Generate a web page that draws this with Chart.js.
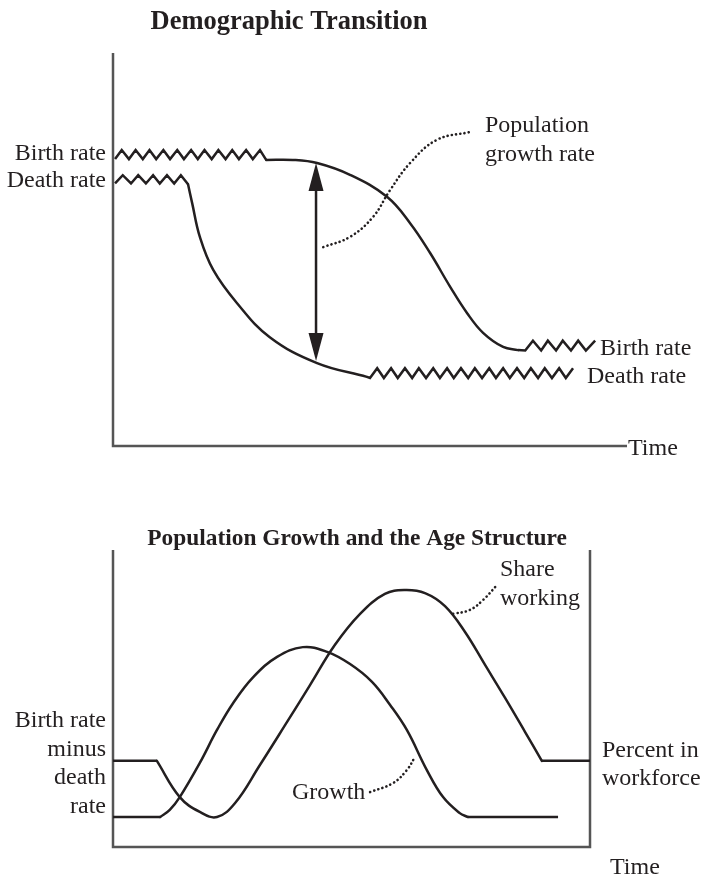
<!DOCTYPE html>
<html>
<head>
<meta charset="utf-8">
<script src="https://cdn.jsdelivr.net/npm/chart.js@4.4.1/dist/chart.umd.min.js"></script>
<style>
html, body { margin: 0; padding: 0; background: #ffffff; }
#wrap { position: relative; width: 703px; height: 878px; }
canvas { position: absolute; left: 0; top: 0; }
</style>
</head>
<body>
<div id="wrap">
  <canvas id="top" width="703" height="878"></canvas>
  <canvas id="bottom" width="703" height="878"></canvas>
</div>
<script>
// ---------------- Panel 1: Demographic Transition (time 0-100, rate 0-100) ----------------
const birthEarlyTime  = [0.4, 1.7, 3.1, 4.4, 5.8, 7.1, 8.4, 9.8, 11.1, 12.5, 13.8, 15.2, 16.5, 17.8, 19.2, 20.5, 21.9, 23.2, 24.5, 25.9, 27.2, 28.6, 29.8];
const birthEarlyRate  = [73.0, 75.3, 73.0, 75.3, 73.0, 75.3, 73.0, 75.3, 73.0, 75.3, 73.0, 75.3, 73.0, 75.3, 73.0, 75.3, 73.0, 75.3, 73.0, 75.3, 73.0, 75.3, 72.8];
const birthFallTime   = [29.8, 35.0, 39.7, 46.1, 53.3, 57.8, 61.7, 65.6, 68.9, 72.0, 75.9, 78.8];
const birthFallRate   = [72.8, 72.8, 72.0, 69.0, 63.4, 56.7, 49.1, 40.5, 33.8, 28.8, 25.2, 24.4];
const birthLateTime   = [78.8, 80.2, 81.7, 83.3, 84.6, 86.2, 87.5, 89.1, 90.5, 92.0, 93.8];
const birthLateRate   = [24.4, 24.3, 26.8, 24.3, 26.8, 24.3, 26.8, 24.3, 26.8, 24.3, 26.8];

const deathEarlyTime  = [0.4, 1.9, 3.5, 4.9, 6.4, 7.8, 9.1, 10.5, 11.9, 13.2, 14.6];
const deathEarlyRate  = [66.8, 68.9, 66.8, 68.9, 66.8, 68.9, 66.8, 68.9, 66.8, 68.9, 66.6];
const deathFallTime   = [14.6, 15.4, 16.9, 19.5, 24.1, 30.5, 39.7, 49.4];
const deathFallRate   = [66.6, 61.8, 53.2, 44.8, 36.4, 27.7, 21.1, 17.6];
const deathLateTime   = [49.4, 50.0, 51.4, 52.7, 54.1, 55.4, 56.8, 58.2, 59.5, 60.9, 62.3, 63.6, 65.0, 66.3, 67.7, 69.1, 70.4, 71.8, 73.2, 74.5, 75.9, 77.2, 78.6, 80.0, 81.3, 82.7, 84.0, 85.4, 86.8, 88.1, 89.5];
const deathLateRate   = [17.6, 17.3, 19.8, 17.3, 19.8, 17.3, 19.8, 17.3, 19.8, 17.3, 19.8, 17.3, 19.8, 17.3, 19.8, 17.3, 19.8, 17.3, 19.8, 17.3, 19.8, 17.3, 19.8, 17.3, 19.8, 17.3, 19.8, 17.3, 19.8, 17.3, 19.8];

const growthPointerTime = [40.9, 46.1, 50.6, 53.9, 57.8, 63.0, 69.5];
const growthPointerRate = [50.6, 53.2, 58.3, 65.1, 72.0, 77.9, 79.9];

const gapArrowTime  = 39.5;
const gapArrowBirth = 72.0;
const gapArrowDeath = 21.6;

// ---------------- Panel 2: Population Growth and the Age Structure ----------------
// first two and last two points of each series are the flat plateaus
const growthTime  = [0, 9.9, 11.9, 14.0, 18.2, 21.8, 25.2, 29.4, 34.4, 39.8, 44.9, 49.7, 54.3, 58.1, 61.6, 65.8, 69.2, 72.7, 74.4, 93.3];
const growthValue = [10.1, 10.1, 12.5, 16.8, 28.3, 39.4, 48.5, 57.2, 64.0, 67.3, 65.7, 61.6, 55.6, 47.8, 39.4, 25.9, 16.8, 11.4, 10.1, 10.1];
const shareTime   = [0, 9.2, 14.0, 18.2, 21.8, 25.6, 30.8, 36.1, 41.3, 46.5, 51.8, 57.0, 61.2, 65.4, 69.6, 73.8, 78.0, 82.2, 86.4, 89.9, 100];
const shareValue  = [29.0, 29.0, 16.8, 11.8, 10.1, 14.8, 27.6, 41.1, 54.5, 68.0, 78.5, 85.2, 86.5, 85.5, 81.1, 72.4, 61.3, 50.2, 38.7, 29.0, 29.0];
const sharePointerTime  = [71.3, 74.8, 77.6, 80.5];
const sharePointerValue = [78.5, 79.8, 83.2, 88.2];
const growthLabelPointerTime  = [53.9, 58.7, 61.6, 63.3];
const growthLabelPointerValue = [18.5, 21.5, 25.9, 30.3];

// ---------------- Styling helpers ----------------
const INK = '#231f20';
const AXIS = '#555555';
const FONT = '"Liberation Serif", "Times New Roman", Times, serif';

function zip(t, v) { return t.map((x, i) => ({ x: x, y: v[i] })); }
function series(t, v, extra) {
  return Object.assign({
    data: zip(t, v),
    borderColor: INK,
    borderWidth: 2.5,
    pointRadius: 0,
    pointHoverRadius: 0,
    fill: false,
    tension: 0,
    borderJoinStyle: 'miter',
    clip: false
  }, extra || {});
}
// plateau + smooth middle + plateau, all from one series
function plateauSeries(t, v) {
  const n = t.length;
  return [
    series(t.slice(0, 2), v.slice(0, 2)),
    series(t.slice(1, n - 1), v.slice(1, n - 1), SMOOTH),
    series(t.slice(n - 2), v.slice(n - 2))
  ];
}
const SMOOTH = { tension: 0.4, borderJoinStyle: 'round', borderCapStyle: 'round' };
const DOTTED = { tension: 0.4, borderDash: [0.1, 4.2], borderCapStyle: 'round', borderWidth: 2.6 };

const framePlugin = {
  id: 'frame',
  beforeDatasetsDraw(chart, args, o) {
    const ctx = chart.ctx, a = chart.chartArea;
    ctx.save();
    ctx.strokeStyle = AXIS;
    ctx.lineWidth = 2.5;
    ctx.lineCap = 'butt';
    ctx.lineJoin = 'miter';
    ctx.beginPath();
    ctx.moveTo(a.left, a.top);
    ctx.lineTo(a.left, a.bottom);
    ctx.lineTo(a.right, a.bottom);
    if (o.closeRight) ctx.lineTo(a.right, a.top);
    ctx.stroke();
    ctx.restore();
  },
  afterDatasetsDraw(chart, args, o) {
    const ctx = chart.ctx;
    ctx.save();
    if (o.arrow) {
      const xs = chart.scales.x, ys = chart.scales.y;
      const x = xs.getPixelForValue(o.arrow.x);
      const y1 = ys.getPixelForValue(o.arrow.y1);
      const y2 = ys.getPixelForValue(o.arrow.y2);
      const hl = 28, hw = 7.5;
      ctx.strokeStyle = INK; ctx.fillStyle = INK; ctx.lineWidth = 2.5;
      ctx.beginPath(); ctx.moveTo(x, y1 + hl - 2); ctx.lineTo(x, y2 - hl + 2); ctx.stroke();
      ctx.beginPath(); ctx.moveTo(x, y1); ctx.lineTo(x - hw, y1 + hl); ctx.lineTo(x + hw, y1 + hl); ctx.closePath(); ctx.fill();
      ctx.beginPath(); ctx.moveTo(x, y2); ctx.lineTo(x - hw, y2 - hl); ctx.lineTo(x + hw, y2 - hl); ctx.closePath(); ctx.fill();
    }
    ctx.fillStyle = INK;
    ctx.textBaseline = 'alphabetic';
    (o.texts || []).forEach(t => {
      ctx.font = (t.bold ? 'bold ' : '') + (t.size || 24) + 'px ' + FONT;
      ctx.textAlign = t.align || 'left';
      ctx.fillText(t.text, t.x, t.y);
    });
    ctx.restore();
  }
};

function baseOptions(padding, frameOpts) {
  return {
    responsive: false,
    animation: false,
    devicePixelRatio: 1,
    layout: { padding: padding },
    events: [],
    scales: {
      x: { type: 'linear', min: 0, max: 100, display: false },
      y: { type: 'linear', min: 0, max: 100, display: false }
    },
    plugins: { legend: { display: false }, tooltip: { enabled: false }, frame: frameOpts }
  };
}

// Panel 1
new Chart(document.getElementById('top'), {
  type: 'line',
  data: {
    datasets: [
      series(birthEarlyTime, birthEarlyRate),
      series(birthFallTime, birthFallRate, SMOOTH),
      series(birthLateTime, birthLateRate),
      series(deathEarlyTime, deathEarlyRate),
      series(deathFallTime, deathFallRate, SMOOTH),
      series(deathLateTime, deathLateRate),
      series(growthPointerTime, growthPointerRate, DOTTED)
    ]
  },
  options: baseOptions({ left: 113, right: 76, top: 53, bottom: 432 }, {
    closeRight: false,
    arrow: { x: gapArrowTime, y1: gapArrowBirth, y2: gapArrowDeath },
    texts: [
      { text: 'Demographic Transition', x: 289, y: 29, align: 'center', bold: true, size: 26.5 },
      { text: 'Birth rate', x: 106, y: 160, align: 'right' },
      { text: 'Death rate', x: 106, y: 187, align: 'right' },
      { text: 'Population', x: 485, y: 132 },
      { text: 'growth rate', x: 485, y: 161 },
      { text: 'Birth rate', x: 600, y: 355 },
      { text: 'Death rate', x: 587, y: 383 },
      { text: 'Time', x: 628, y: 455 }
    ]
  }),
  plugins: [framePlugin]
});

// Panel 2
new Chart(document.getElementById('bottom'), {
  type: 'line',
  data: {
    datasets: [
      ...plateauSeries(growthTime, growthValue),
      ...plateauSeries(shareTime, shareValue),
      series(sharePointerTime, sharePointerValue, DOTTED),
      series(growthLabelPointerTime, growthLabelPointerValue, DOTTED)
    ]
  },
  options: baseOptions({ left: 113, right: 113, top: 550, bottom: 31 }, {
    closeRight: true,
    texts: [
      { text: 'Population Growth and the Age Structure', x: 357, y: 545, align: 'center', bold: true, size: 23.4 },
      { text: 'Share', x: 500, y: 576 },
      { text: 'working', x: 500, y: 605 },
      { text: 'Birth rate', x: 106, y: 727, align: 'right' },
      { text: 'minus', x: 106, y: 756, align: 'right' },
      { text: 'death', x: 106, y: 784, align: 'right' },
      { text: 'rate', x: 106, y: 813, align: 'right' },
      { text: 'Growth', x: 292, y: 799 },
      { text: 'Percent in', x: 602, y: 757 },
      { text: 'workforce', x: 602, y: 785 },
      { text: 'Time', x: 610, y: 874 }
    ]
  }),
  plugins: [framePlugin]
});
</script>
</body>
</html>
